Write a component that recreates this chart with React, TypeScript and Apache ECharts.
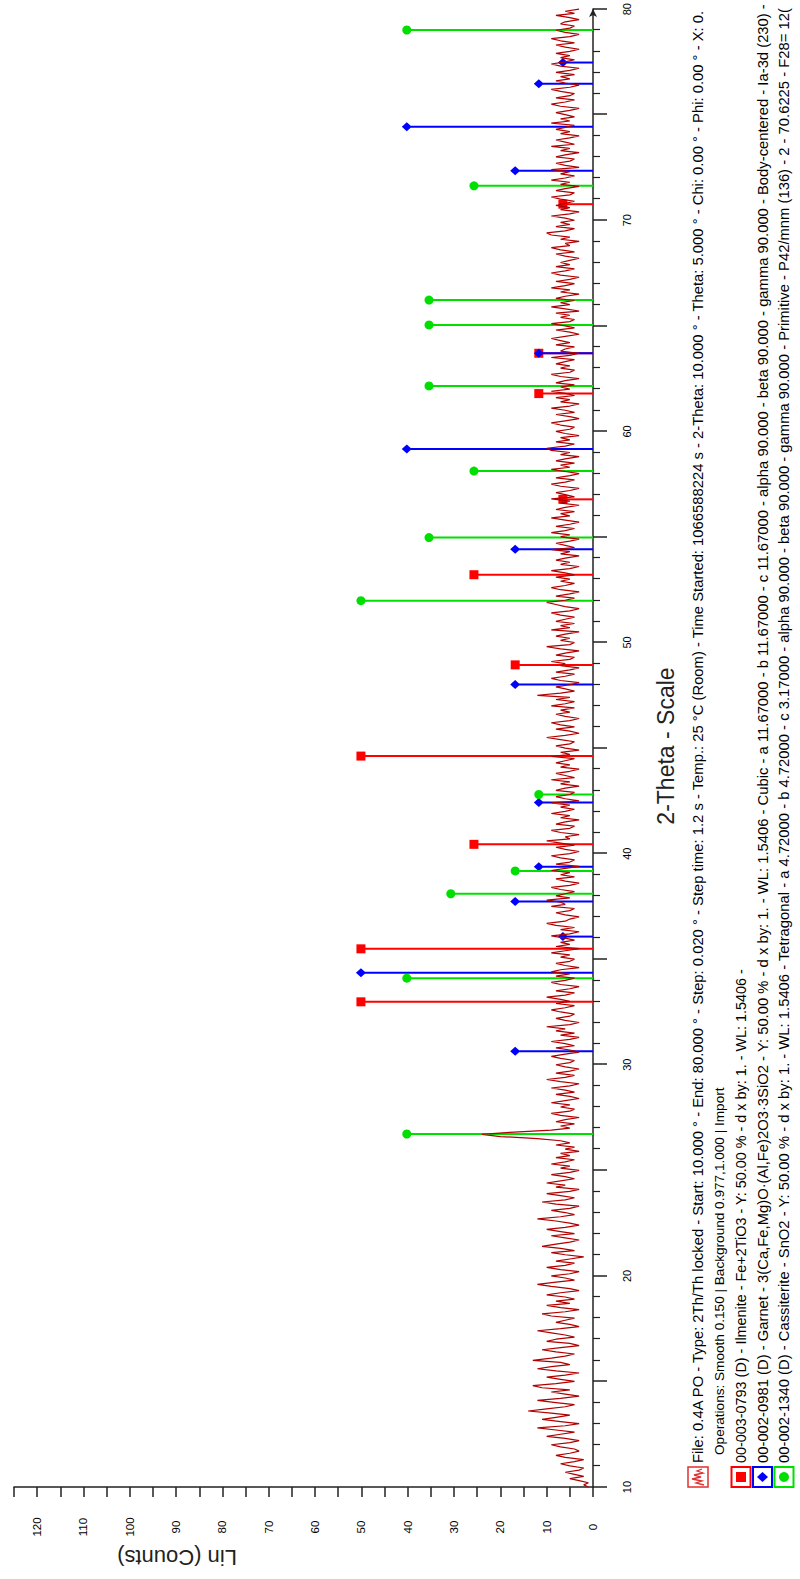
import React, { useEffect, useRef } from 'react';
import * as echarts from 'echarts';

// ---- data ----
const thetaStart = 10;
const thetaStep = 0.1;
const thetaTicks = [10, 20, 30, 40, 50, 60, 70, 80];
const linTicks = [0, 10, 20, 30, 40, 50, 60, 70, 80, 90, 100, 110, 120];

// scan counts, 10.0° .. 80.0° every 0.1° (one row per degree)
const scanCounts = [
  1, 2, 1, 3, 5, 2, 4, 6, 3, 2,
  5, 7, 4, 2, 6, 8, 5, 3, 4, 7,
  9, 5, 3, 6, 10, 7, 4, 8, 12, 6,
  3, 7, 11, 8, 5, 9, 14, 10, 6, 4,
  8, 12, 7, 3, 6, 9, 5, 11, 13, 8,
  4, 7, 10, 6, 3, 8, 12, 9, 5, 7,
  13, 9, 6, 4, 8, 11, 7, 3, 5, 10,
  8, 4, 6, 9, 12, 7, 3, 5, 8, 6,
  4, 9, 11, 6, 3, 7, 10, 5, 8, 4,
  6, 10, 7, 3, 5, 9, 12, 8, 4, 6,
  9, 5, 3, 7, 10, 6, 4, 8, 5, 2,
  6, 9, 4, 7, 11, 8, 5, 3, 6, 9,
  4, 7, 10, 6, 3, 5, 8, 12, 7, 4,
  6, 9, 5, 3, 8, 11, 6, 4, 7, 10,
  5, 3, 8, 6, 10, 7, 4, 6, 9, 5,
  3, 7, 5, 9, 6, 4, 8, 5, 7, 3,
  6, 4, 8, 5, 7, 12, 20, 24, 18, 9,
  5, 7, 4, 8, 6, 3, 7, 9, 5, 4,
  7, 5, 9, 6, 3, 5, 8, 4, 6, 9,
  5, 3, 7, 10, 6, 4, 8, 5, 3, 6,
  8, 5, 4, 7, 9, 6, 3, 5, 8, 4,
  6, 9, 5, 3, 7, 4, 8, 6, 10, 5,
  3, 6, 8, 5, 4, 7, 9, 6, 4, 8,
  5, 7, 10, 6, 4, 8, 5, 3, 7, 9,
  6, 4, 8, 5, 9, 7, 3, 6, 8, 5,
  4, 7, 5, 9, 6, 3, 8, 5, 7, 4,
  6, 9, 5, 3, 7, 4, 8, 10, 6, 5,
  3, 6, 8, 5, 4, 9, 6, 7, 10, 5,
  8, 6, 4, 7, 9, 5, 3, 6, 8, 4,
  7, 5, 9, 6, 3, 8, 5, 4, 7, 9,
  5, 3, 6, 8, 4, 7, 10, 5, 6, 3,
  7, 9, 5, 4, 8, 6, 3, 7, 5, 9,
  6, 4, 7, 5, 9, 3, 6, 8, 5, 4,
  8, 6, 3, 7, 5, 9, 4, 6, 8, 5,
  3, 7, 5, 8, 6, 4, 9, 5, 7, 3,
  6, 8, 5, 4, 7, 10, 6, 3, 5, 8,
  4, 7, 9, 5, 3, 6, 8, 5, 7, 4,
  9, 6, 4, 8, 5, 12, 7, 4, 6, 8,
  5, 3, 7, 9, 6, 4, 8, 5, 3, 7,
  6, 9, 5, 4, 8, 6, 3, 7, 10, 5,
  4, 7, 5, 8, 6, 3, 9, 5, 7, 4,
  8, 6, 4, 7, 9, 5, 3, 6, 8, 10,
  6, 4, 8, 5, 3, 7, 9, 6, 4, 7,
  5, 8, 4, 6, 9, 5, 3, 7, 5, 8,
  6, 3, 7, 5, 9, 4, 6, 8, 5, 3,
  7, 5, 9, 6, 4, 8, 5, 3, 6, 9,
  5, 7, 4, 8, 6, 3, 7, 5, 9, 4,
  6, 8, 5, 3, 7, 9, 6, 4, 8, 5,
  3, 6, 9, 5, 7, 4, 8, 6, 3, 7,
  5, 9, 10, 6, 4, 8, 5, 7, 3, 6,
  8, 5, 4, 7, 9, 6, 3, 5, 8, 4,
  6, 9, 5, 3, 7, 5, 8, 4, 6, 9,
  5, 7, 4, 8, 6, 3, 7, 9, 5, 4,
  7, 5, 8, 6, 4, 9, 5, 3, 7, 6,
  4, 8, 5, 7, 9, 6, 3, 5, 8, 4,
  6, 9, 5, 4, 7, 5, 8, 3, 6, 9,
  5, 7, 4, 8, 6, 3, 7, 5, 9, 6,
  4, 8, 5, 3, 7, 9, 6, 4, 8, 5,
  7, 5, 3, 6, 8, 4, 7, 9, 5, 6,
  3, 7, 5, 9, 10, 6, 4, 8, 5, 7,
  4, 6, 9, 5, 3, 7, 5, 8, 6, 4,
  7, 9, 5, 4, 8, 6, 3, 7, 5, 9,
  6, 4, 7, 5, 9, 3, 6, 8, 5, 4,
  8, 6, 3, 7, 5, 9, 4, 6, 8, 5,
  3, 7, 5, 8, 6, 4, 9, 5, 7, 4,
  6, 8, 5, 3, 7, 9, 6, 4, 8, 5,
  4, 7, 9, 5, 3, 6, 8, 5, 7, 4,
  8, 5, 3, 7, 9, 6, 4, 7, 5, 8,
  5, 3, 6, 8, 4, 7, 9, 5, 3, 6,
  8, 5, 4, 7, 6, 3, 5, 8, 4, 6,
  3,
];

// reference patterns: [2-theta, intensity]
const ilmenitePeaks = [
  [32.98, 50.1], [35.49, 50.1], [40.44, 25.7], [44.62, 50.1], [48.94, 16.8],
  [53.21, 25.7], [56.78, 6.5], [61.79, 11.7], [63.7, 11.7], [70.76, 6.5],
];
const garnetPeaks = [
  [30.64, 16.8], [34.36, 50.1], [36.07, 6.5], [37.73, 16.8], [39.38, 11.7],
  [42.42, 11.7], [48.01, 16.8], [54.42, 16.8], [59.17, 40.2], [63.7, 11.7],
  [72.35, 16.8], [74.43, 40.2], [76.46, 11.7], [77.47, 6.5],
];
const cassiteritePeaks = [
  [26.72, 40.2], [34.1, 40.2], [38.1, 30.7], [39.18, 16.8], [42.8, 11.7],
  [51.98, 50.1], [54.97, 35.4], [58.12, 25.7], [62.15, 35.4], [65.04, 35.4],
  [66.22, 35.4], [71.63, 25.7], [79.01, 40.2],
];

const xTitle = '2-Theta - Scale';
const yTitle = 'Lin (Counts)';
const legendLines = [
  'File: 0.4A PO - Type: 2Th/Th locked - Start: 10.000 ° - End: 80.000 ° - Step: 0.020 ° - Step time: 1.2 s - Temp.: 25 °C (Room) - Time Started: 1066588224 s - 2-Theta: 10.000 ° - Theta: 5.000 ° - Chi: 0.00 ° - Phi: 0.00 ° - X: 0.',
  'Operations: Smooth 0.150 | Background 0.977,1.000 | Import',
  '00-003-0793 (D) - Ilmenite - Fe+2TiO3 - Y: 50.00 % - d x by: 1. - WL: 1.5406 -',
  '00-002-0981 (D) - Garnet - 3(Ca,Fe,Mg)O·(Al,Fe)2O3·3SiO2 - Y: 50.00 % - d x by: 1. - WL: 1.5406 - Cubic - a 11.67000 - b 11.67000 - c 11.67000 - alpha 90.000 - beta 90.000 - gamma 90.000 - Body-centered - Ia-3d (230) -',
  '00-002-1340 (D) - Cassiterite - SnO2 - Y: 50.00 % - d x by: 1. - WL: 1.5406 - Tetragonal - a 4.72000 - b 4.72000 - c 3.17000 - alpha 90.000 - beta 90.000 - gamma 90.000 - Primitive - P42/mnm (136) - 2 - 70.6225 - F28= 12(',
];

// ---- layout (chart drawn unrotated, then turned 90° CCW) ----
const W = 1579;
const H = 800;
const FONT = '"Liberation Sans", Arial, Helvetica, sans-serif';
const SCAN_COLOR = '#b00000';
const RED = '#ff0000';
const BLUE = '#0000ff';
const GREEN = '#00e000';
const LEGEND_SIZES = [14.8, 13.6, 14.4, 14.8, 14.8];

function stickSeries(name: string, data: number[][], color: string, marker: string) {
  return {
    type: 'custom',
    name,
    data,
    z: 2,
    silent: true,
    encode: { x: 0, y: 1 },
    renderItem: (_params: any, api: any) => {
      const x = api.value(0);
      const y = api.value(1);
      const p0 = api.coord([x, 0]);
      const p1 = api.coord([x, y]);
      const children: any[] = [
        {
          type: 'line',
          shape: { x1: p0[0], y1: p0[1], x2: p1[0], y2: p1[1] + 4 },
          style: { stroke: color, lineWidth: 2 },
        },
      ];
      if (marker === 'square') {
        children.push({
          type: 'rect',
          shape: { x: p1[0] - 4.5, y: p1[1] - 4.5, width: 9, height: 9 },
          style: { fill: color },
        });
      } else if (marker === 'diamond') {
        children.push({
          type: 'polygon',
          shape: {
            points: [
              [p1[0], p1[1] - 5],
              [p1[0] + 4.5, p1[1]],
              [p1[0], p1[1] + 5],
              [p1[0] - 4.5, p1[1]],
            ],
          },
          style: { fill: color },
        });
      } else {
        children.push({
          type: 'circle',
          shape: { cx: p1[0], cy: p1[1], r: 4.5 },
          style: { fill: color },
        });
      }
      return { type: 'group', children };
    },
  };
}

function legendGraphics() {
  const els: any[] = [];
  const x0 = 92;
  const ys = [698, 719.5, 741, 762.5, 784];
  // icon line 1: scan
  els.push({
    type: 'rect',
    shape: { x: x0, y: ys[0] - 10, width: 20, height: 20 },
    style: { fill: '#fff', stroke: '#e03030', lineWidth: 1.5 },
  });
  els.push({
    type: 'polyline',
    shape: {
      points: [
        [x0 + 2, ys[0] + 6], [x0 + 4, ys[0] - 2], [x0 + 6, ys[0] + 4], [x0 + 8, ys[0] - 6],
        [x0 + 10, ys[0] + 3], [x0 + 12, ys[0] - 4], [x0 + 14, ys[0] + 5], [x0 + 16, ys[0] - 1],
        [x0 + 18, ys[0] + 4],
      ],
    },
    style: { stroke: '#e03030', lineWidth: 1.3, fill: 'none' },
  });
  const icons = [
    { c: RED, m: 'square' },
    { c: BLUE, m: 'diamond' },
    { c: GREEN, m: 'circle' },
  ];
  icons.forEach((ic, i) => {
    const cy = ys[i + 2];
    const cx = x0 + 10;
    els.push({
      type: 'rect',
      shape: { x: x0, y: cy - 9.5, width: 20, height: 19 },
      style: { fill: '#fff', stroke: ic.c, lineWidth: 2 },
    });
    if (ic.m === 'square') {
      els.push({ type: 'rect', shape: { x: cx - 5, y: cy - 5, width: 10, height: 10 }, style: { fill: ic.c } });
    } else if (ic.m === 'diamond') {
      els.push({
        type: 'polygon',
        shape: { points: [[cx, cy - 5.5], [cx + 5, cy], [cx, cy + 5.5], [cx - 5, cy]] },
        style: { fill: ic.c },
      });
    } else {
      els.push({ type: 'circle', shape: { cx, cy, r: 5 }, style: { fill: ic.c } });
    }
  });
  legendLines.forEach((t, i) => {
    els.push({
      type: 'text',
      x: i === 1 ? 124 : 116,
      y: ys[i],
      style: {
        text: t,
        fontSize: LEGEND_SIZES[i],
        fontFamily: FONT,
        fill: '#000',
        verticalAlign: 'middle',
        align: 'left',
      },
    });
  });
  return els;
}

export default function App() {
  const ref = useRef<HTMLDivElement>(null);

  useEffect(() => {
    if (!ref.current) return;
    const chart = echarts.init(ref.current, null, { renderer: 'svg', width: W, height: H });
    const scanData = scanCounts.map((c, i) => [+(thetaStart + i * thetaStep).toFixed(2), c]);

    const option: any = {
      animation: false,
      backgroundColor: '#fff',
      grid: { left: 92, right: 5, top: 14, bottom: 207, containLabel: false },
      xAxis: {
        type: 'value',
        min: thetaTicks[0],
        max: thetaTicks[thetaTicks.length - 1],
        interval: 5,
        axisLine: {
          show: true,
          onZero: false,
          symbol: ['none', 'arrow'],
          symbolSize: [6, 8],
          lineStyle: { color: '#222', width: 1.5 },
        },
        axisTick: { show: true, length: 14, lineStyle: { color: '#222', width: 1.5 } },
        minorTick: { show: true, splitNumber: 5, length: 7, lineStyle: { color: '#222', width: 1.2 } },
        axisLabel: {
          margin: 28,
          fontSize: 11,
          fontFamily: FONT,
          color: '#000',
          formatter: (v: number) => (thetaTicks.includes(v) ? String(v) : ''),
        },
        splitLine: { show: false },
        minorSplitLine: { show: false },
      },
      yAxis: {
        type: 'value',
        min: 0,
        max: 125,
        interval: 5,
        axisLine: { show: true, onZero: false, lineStyle: { color: '#222', width: 1.5 } },
        axisTick: { show: true, length: 10, lineStyle: { color: '#222', width: 1.5 } },
        axisLabel: {
          margin: 40,
          align: 'center',
          fontSize: 11.5,
          fontFamily: FONT,
          color: '#000',
          formatter: (v: number) => (linTicks.includes(v) ? String(v) : ''),
        },
        splitLine: { show: false },
      },
      graphic: [
        {
          type: 'text',
          x: 833,
          y: 666,
          style: {
            text: xTitle,
            fontSize: 23,
            fontFamily: FONT,
            fill: '#222',
            align: 'center',
            verticalAlign: 'middle',
          },
        },
        {
          type: 'text',
          x: 22,
          y: 177,
          rotation: Math.PI / 2,
          style: {
            text: yTitle,
            fontSize: 22,
            fontFamily: FONT,
            fill: '#222',
            align: 'center',
            verticalAlign: 'middle',
          },
        },
        ...legendGraphics(),
      ],
      series: [
        stickSeries('Ilmenite', ilmenitePeaks, RED, 'square'),
        stickSeries('Garnet', garnetPeaks, BLUE, 'diamond'),
        stickSeries('Cassiterite', cassiteritePeaks, GREEN, 'circle'),
        {
          type: 'line',
          name: 'Scan',
          data: scanData,
          z: 3,
          symbol: 'none',
          silent: true,
          lineStyle: { color: SCAN_COLOR, width: 1.2 },
        },
      ],
    };
    chart.setOption(option);
    return () => chart.dispose();
  }, []);

  return (
    <div
      style={{
        position: 'fixed',
        left: 0,
        top: 0,
        width: 800,
        height: 1579,
        overflow: 'hidden',
        background: '#fff',
      }}
    >
      <div
        ref={ref}
        style={{
          position: 'absolute',
          left: 0,
          top: 0,
          width: W,
          height: H,
          transformOrigin: '0 0',
          transform: `translate(0px, ${W}px) rotate(-90deg)`,
        }}
      />
    </div>
  );
}
